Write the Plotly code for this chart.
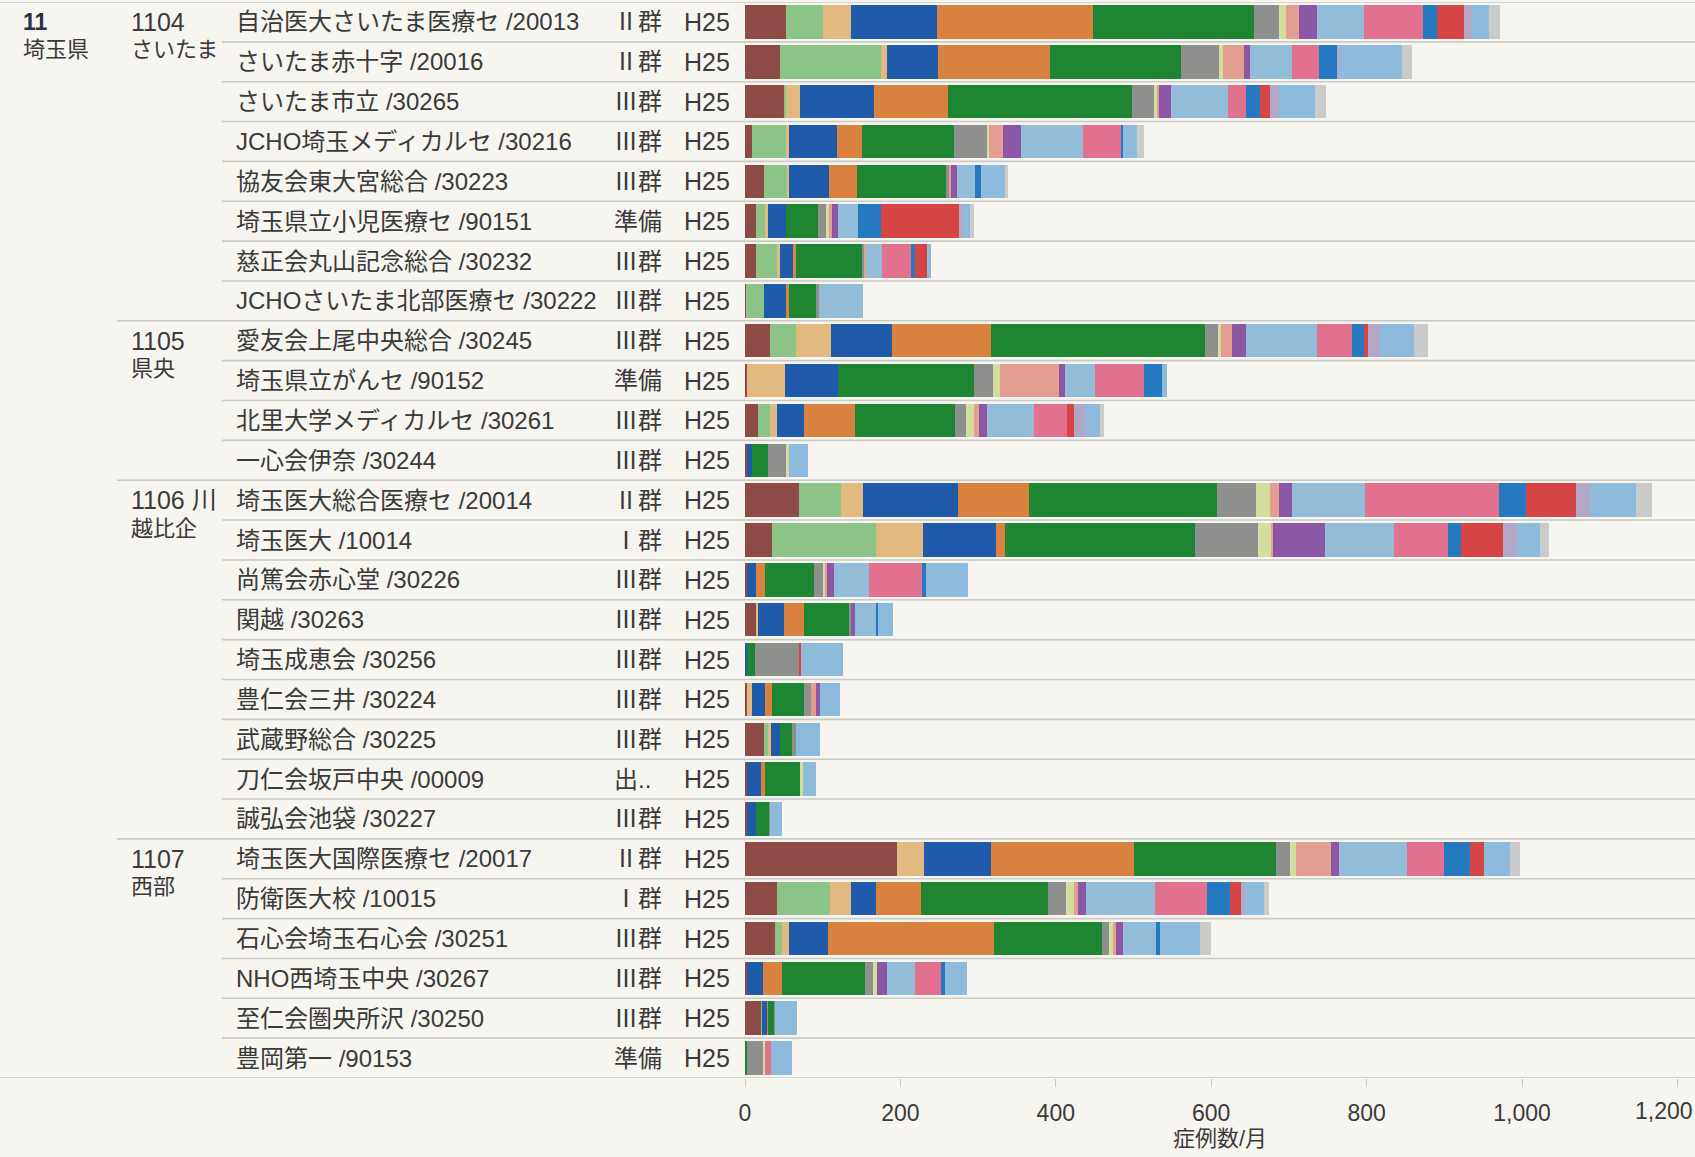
import plotly.graph_objects as go

# ---- data -------------------------------------------------------------
hospitals = [
    "自治医大さいたま医療セ /20013", "さいたま赤十字 /20016", "さいたま市立 /30265",
    "JCHO埼玉メディカルセ /30216", "協友会東大宮総合 /30223", "埼玉県立小児医療セ /90151",
    "慈正会丸山記念総合 /30232", "JCHOさいたま北部医療セ /30222",
    "愛友会上尾中央総合 /30245", "埼玉県立がんセ /90152", "北里大学メディカルセ /30261",
    "一心会伊奈 /30244",
    "埼玉医大総合医療セ /20014", "埼玉医大 /10014", "尚篤会赤心堂 /30226", "関越 /30263",
    "埼玉成恵会 /30256", "豊仁会三井 /30224", "武蔵野総合 /30225", "刀仁会坂戸中央 /00009",
    "誠弘会池袋 /30227",
    "埼玉医大国際医療セ /20017", "防衛医大校 /10015", "石心会埼玉石心会 /30251",
    "NHO西埼玉中央 /30267", "至仁会圏央所沢 /30250", "豊岡第一 /90153",
]
hosp_group = ["Ⅱ群", "Ⅱ群", "Ⅲ群", "Ⅲ群", "Ⅲ群", "準備", "Ⅲ群", "Ⅲ群",
              "Ⅲ群", "準備", "Ⅲ群", "Ⅲ群",
              "Ⅱ群", "Ⅰ群", "Ⅲ群", "Ⅲ群", "Ⅲ群", "Ⅲ群", "Ⅲ群", "出..", "Ⅲ群",
              "Ⅱ群", "Ⅰ群", "Ⅲ群", "Ⅲ群", "Ⅲ群", "準備"]
year_label = ["H25"] * 27
pref_code = "11"
pref_name = "埼玉県"
region_line1 = ["1104", "1105", "1106 川", "1107"]
region_line2 = ["さいたま", "県央", "越比企", "西部"]
region_first_row = [0, 8, 12, 21]

mdc_names = ["MDC01 神経系", "MDC02 眼科系", "MDC03 耳鼻咽喉科系", "MDC04 呼吸器系",
             "MDC05 循環器系", "MDC06 消化器系", "MDC07 筋骨格系", "MDC08 皮膚系",
             "MDC09 乳房系", "MDC10 内分泌系", "MDC11 腎・尿路系", "MDC12 女性生殖器系",
             "MDC13 血液系", "MDC14 新生児系", "MDC15 小児疾患", "MDC16 外傷系",
             "MDC17 精神系"]

mdc01 = [53, 45, 51, 9, 24, 14, 14, 1, 32, 3, 17, 3, 69, 35, 3, 14, 0, 3, 24, 3, 3, 195, 41, 39, 3, 21, 0]
mdc02 = [48, 130, 2, 44, 30, 12, 27, 23, 34, 0, 15, 0, 54, 134, 0, 0, 0, 0, 6, 0, 0, 0, 68, 9, 0, 1, 0]
mdc03 = [36, 8, 18, 4, 3, 3, 4, 0, 45, 48, 9, 0, 29, 60, 0, 3, 0, 6, 3, 0, 0, 36, 27, 8, 0, 0, 0]
mdc04 = [110, 66, 95, 61, 51, 24, 18, 29, 78, 69, 35, 6, 122, 94, 11, 33, 3, 17, 12, 18, 11, 86, 33, 51, 20, 7, 1]
mdc05 = [201, 144, 95, 33, 36, 0, 2, 4, 128, 0, 66, 0, 92, 12, 12, 26, 0, 9, 0, 5, 0, 183, 57, 213, 24, 1, 0]
mdc06 = [207, 168, 237, 118, 115, 41, 85, 35, 275, 175, 128, 21, 242, 244, 63, 59, 10, 41, 15, 45, 17, 183, 164, 140, 108, 8, 1]
mdc07 = [32, 49, 28, 43, 3, 10, 3, 3, 17, 24, 15, 23, 49, 81, 11, 1, 56, 9, 6, 0, 1, 18, 23, 8, 10, 1, 21]
mdc08 = [9, 5, 5, 2, 0, 4, 0, 0, 4, 9, 10, 3, 19, 18, 3, 0, 0, 0, 0, 3, 0, 8, 10, 5, 5, 0, 3]
mdc09 = [17, 27, 2, 18, 3, 4, 3, 0, 14, 76, 6, 0, 11, 1, 3, 0, 0, 6, 0, 0, 0, 45, 5, 5, 0, 0, 0]
mdc10 = [23, 8, 15, 23, 8, 8, 0, 0, 18, 8, 11, 0, 17, 68, 9, 5, 0, 5, 0, 0, 0, 10, 11, 9, 13, 0, 0]
mdc11 = [60, 54, 73, 80, 23, 26, 20, 57, 91, 39, 60, 0, 94, 88, 45, 27, 0, 0, 0, 0, 0, 88, 88, 42, 36, 0, 0]
mdc12 = [76, 35, 24, 50, 0, 0, 38, 0, 45, 63, 42, 0, 172, 70, 68, 0, 0, 0, 0, 0, 0, 48, 68, 0, 33, 0, 7]
mdc13 = [18, 24, 18, 1, 8, 29, 5, 0, 15, 23, 0, 0, 35, 17, 5, 3, 0, 0, 0, 0, 0, 33, 29, 5, 5, 0, 0]
mdc14 = [35, 0, 12, 0, 0, 101, 15, 0, 6, 0, 10, 0, 65, 53, 0, 0, 3, 0, 0, 0, 0, 18, 14, 0, 0, 0, 0]
mdc15 = [11, 1, 12, 0, 0, 5, 0, 0, 15, 0, 13, 0, 18, 18, 0, 0, 0, 0, 0, 0, 0, 0, 6, 0, 0, 0, 0]
mdc16 = [22, 82, 47, 19, 30, 9, 6, 0, 44, 6, 20, 25, 59, 30, 54, 20, 54, 26, 30, 17, 15, 33, 24, 51, 29, 28, 27]
mdc17 = [14, 13, 14, 8, 4, 5, 0, 0, 18, 0, 5, 0, 20, 12, 0, 0, 0, 0, 0, 0, 0, 14, 6, 15, 0, 0, 0]

x_ticks = [0, 200, 400, 600, 800, 1000, 1200]
x_tick_text = ["0", "200", "400", "600", "800", "1,000", ""]
x_last_tick_text = "1,200"   # drawn right-aligned at the edge, as in the source
x_title = "症例数/月"

# ---- styling -------------------------------------------------------------
series = [mdc01, mdc02, mdc03, mdc04, mdc05, mdc06, mdc07, mdc08, mdc09, mdc10,
          mdc11, mdc12, mdc13, mdc14, mdc15, mdc16, mdc17]
colors = ["#8E4B45", "#8CC487", "#E2B97E", "#1F5BAA", "#D9823F", "#1E8633",
          "#8E908E", "#D3DE9C", "#E49D91", "#8C58A6", "#93BCD9", "#E2708F",
          "#2479C1", "#D64545", "#B3A7C9", "#8EBADB", "#C9CCC9"]

W, H = 1695, 1157
L_MARGIN = 745
B_MARGIN = 79
PLOT_W = W - L_MARGIN
X_MAX = 1222.6
BG = "#F7F5F0"
TXT = "#3a3a3a"
FONT = "Liberation Sans, Noto Sans CJK JP, sans-serif"


def px_to_paper(px):
    return (px - L_MARGIN) / PLOT_W


rows = list(range(len(hospitals)))

fig = go.Figure()
for name, vals, col in zip(mdc_names, series, colors):
    fig.add_trace(go.Bar(
        y=rows, x=vals, name=name, orientation="h",
        marker=dict(color=col, line=dict(width=0)),
    ))

annotations = []
for i, (h, g, yr) in enumerate(zip(hospitals, hosp_group, year_label)):
    annotations.append(dict(x=px_to_paper(234), y=i, xref="paper", yref="y", text=h,
                            xanchor="left", yanchor="middle", showarrow=False,
                            font=dict(size=24, color=TXT, family=FONT)))
    annotations.append(dict(x=px_to_paper(612), y=i, xref="paper", yref="y", text=g,
                            xanchor="left", yanchor="middle", showarrow=False,
                            font=dict(size=24, color=TXT, family=FONT)))
    annotations.append(dict(x=px_to_paper(682), y=i, xref="paper", yref="y", text=yr,
                            xanchor="left", yanchor="middle", showarrow=False,
                            font=dict(size=25, color=TXT, family=FONT)))

for l1, l2, r in zip(region_line1, region_line2, region_first_row):
    annotations.append(dict(x=px_to_paper(129), y=r, xref="paper", yref="y", text=l1,
                            xanchor="left", yanchor="middle", showarrow=False,
                            font=dict(size=25, color=TXT, family=FONT)))
    annotations.append(dict(x=px_to_paper(129), y=r + 0.7, xref="paper", yref="y", text=l2,
                            xanchor="left", yanchor="middle", showarrow=False,
                            font=dict(size=22, color=TXT, family=FONT)))

annotations.append(dict(x=px_to_paper(21), y=0, xref="paper", yref="y",
                        text="<b>" + pref_code + "</b>",
                        xanchor="left", yanchor="middle", showarrow=False,
                        font=dict(size=23, color="#2a3040", family=FONT)))
annotations.append(dict(x=px_to_paper(21), y=0.7, xref="paper", yref="y", text=pref_name,
                        xanchor="left", yanchor="middle", showarrow=False,
                        font=dict(size=22, color=TXT, family=FONT)))

# last tick label, right-aligned to the page edge
annotations.append(dict(x=1, y=0, xref="paper", yref="paper", text=x_last_tick_text,
                        xanchor="right", yanchor="middle", yshift=-33, showarrow=False,
                        font=dict(size=23, color=TXT, family=FONT)))

shapes = []
n = len(hospitals)
region_breaks = [r - 1 for r in region_first_row[1:]]
for i in range(-1, n):
    if i == -1 or i == n - 1:
        x0 = px_to_paper(0)
    elif i in region_breaks:
        x0 = px_to_paper(117)
    else:
        x0 = px_to_paper(222)
    shapes.append(dict(type="line", xref="paper", yref="y", x0=x0, x1=1,
                       y0=i + 0.5, y1=i + 0.5,
                       line=dict(color="#cacac6", width=1.6)))

fig.update_layout(
    width=W, height=H,
    margin=dict(l=L_MARGIN, r=0, t=2, b=B_MARGIN, autoexpand=False),
    barmode="stack", bargap=0.16, showlegend=False,
    paper_bgcolor=BG, plot_bgcolor=BG,
    annotations=annotations, shapes=shapes,
    font=dict(family=FONT, color=TXT),
)
fig.update_xaxes(
    range=[0, X_MAX], tickvals=x_ticks, ticktext=x_tick_text,
    showgrid=False, zeroline=False, showline=False, automargin=False,
    ticks="outside", ticklen=8, tickcolor="#c9c9c6", tickwidth=1,
    ticklabelstandoff=6,
    tickfont=dict(size=23, color=TXT, family=FONT),
    title=dict(text=x_title, font=dict(size=22, color=TXT, family=FONT), standoff=6),
)
fig.update_yaxes(range=[n - 0.5, -0.5], showticklabels=False, showgrid=False,
                 zeroline=False, showline=False, automargin=False)

fig.write_html("out.html", config={"displayModeBar": False},
               post_script="document.body.style.margin='0';")
